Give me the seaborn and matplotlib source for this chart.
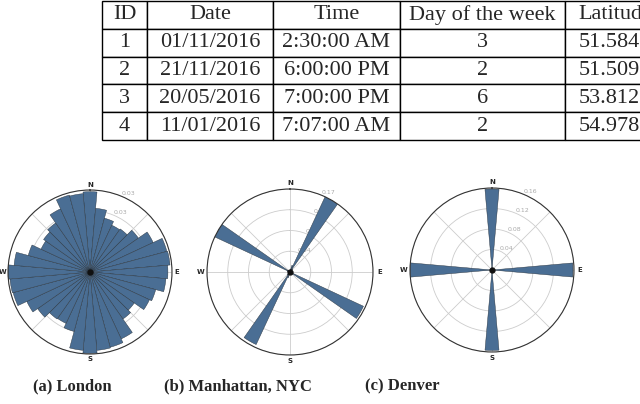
import numpy as np
import matplotlib
matplotlib.use("Agg")
import matplotlib.pyplot as plt
import seaborn as sns

# table data
headers = ["ID", "Date", "Time", "Day of the week", "Latitude"]
ids = ["1", "2", "3", "4"]
dates = ["01/11/2016", "21/11/2016", "20/05/2016", "11/01/2016"]
times = ["2:30:00 AM", "6:00:00 PM", "7:00:00 PM", "7:07:00 AM"]
weekdays = ["3", "2", "6", "2"]
latitudes = ["51.5842", "51.5096", "53.8123", "54.9783"]

# direction bins (degrees clockwise from north)
bins_deg = list(range(0, 360, 10))

london = [0.0333, 0.0265, 0.0231, 0.0214, 0.0218, 0.0245, 0.0289, 0.0330, 0.0333,
          0.0323, 0.0316, 0.0282, 0.0272, 0.0224, 0.0238, 0.0306, 0.0323, 0.0326,
          0.0337, 0.0326, 0.0255, 0.0235, 0.0238, 0.0265, 0.0289, 0.0330, 0.0333,
          0.0340, 0.0316, 0.0265, 0.0224, 0.0235, 0.0248, 0.0289, 0.0330, 0.0326]
manhattan = [0.004, 0.006, 0.014, 0.170, 0.008, 0.004, 0.003, 0.003, 0.003,
             0.004, 0.004, 0.006, 0.166, 0.006, 0.004, 0.003, 0.003, 0.003,
             0.004, 0.006, 0.012, 0.164, 0.008, 0.004, 0.003, 0.003, 0.003,
             0.004, 0.004, 0.006, 0.170, 0.006, 0.004, 0.003, 0.003, 0.003]
denver = [0.158, 0.004, 0.002, 0.002, 0.002, 0.002, 0.002, 0.002, 0.004,
          0.158, 0.004, 0.002, 0.002, 0.002, 0.002, 0.002, 0.002, 0.004,
          0.157, 0.004, 0.002, 0.002, 0.002, 0.002, 0.002, 0.002, 0.004,
          0.160, 0.004, 0.002, 0.002, 0.002, 0.002, 0.002, 0.002, 0.004]

rmax = [0.034, 0.17, 0.16]
ring_labels = [["", "", "0.03", "0.03"],
               ["0.04", "0.09", "0.13", "0.17"],
               ["0.04", "0.08", "0.12", "0.16"]]
captions = ["(a) London", "(b) Manhattan, NYC", "(c) Denver"]

sns.set_style("white")
plt.rcParams['font.family'] = ['Liberation Serif', 'DejaVu Serif']

fig = plt.figure(figsize=(6.4, 4.04), dpi=100)

# ---- table ----
W, H = 640.0, 404.0
col_w = [45, 126, 127, 165, 100]
ax_t = fig.add_axes([102 / W, (H - 140) / H, sum(col_w) / W, 139 / H])
ax_t.axis('off')
rows = [list(r) for r in zip(ids, dates, times, weekdays, latitudes)]
tbl = ax_t.table(cellText=rows, colLabels=headers, colWidths=col_w,
                 cellLoc='center', bbox=[0, 0, 1, 1])
tbl.auto_set_font_size(False)
tbl.set_fontsize(16)
for (r, c), cell in tbl.get_celld().items():
    cell.set_linewidth(1.0)
    cell.set_edgecolor('black')
    cell.get_text().set_fontfamily(['Liberation Serif', 'DejaVu Serif'])

# ---- wind roses ----
boxes = [(90, 272, 82), (290, 272, 83), (492, 270, 82)]
pads = [-7, -6, -6]
series = [london, manhattan, denver]
bar_color = "#4a6e94"
theta = np.deg2rad(bins_deg)
width = 2 * np.pi / len(bins_deg)

for i, (cx, cy, R) in enumerate(boxes):
    ax = fig.add_axes([(cx - R) / W, (H - cy - R) / H, 2 * R / W, 2 * R / H],
                      projection='polar')
    ax.set_theta_zero_location('N')
    ax.set_theta_direction(-1)
    ax.set_axisbelow(True)
    ax.bar(theta, series[i], width=width, color=bar_color,
           edgecolor='#26303a', linewidth=0.3, zorder=2)
    ax.set_ylim(0, rmax[i])
    ticks = [rmax[i] * k / 4 for k in range(1, 5)]
    ax.set_yticks(ticks)
    ax.set_yticklabels(ring_labels[i], fontsize=4.5, color='#aaaaaa',
                       family='DejaVu Sans')
    ax.set_rlabel_position(22.5)
    ax.set_thetagrids(range(0, 360, 45),
                      labels=['N', '', 'E', '', 'S', '', 'W', ''],
                      fontsize=5, fontweight='bold', family='DejaVu Sans')
    ax.tick_params(axis='x', pad=pads[i])
    ax.grid(color='#cccccc', linewidth=0.6)
    ax.spines['polar'].set_color('#333333')
    ax.spines['polar'].set_linewidth(0.8)
    ax.plot([0], [0], 'o', color='#111111', ms=3.5, zorder=3)

cap_x = [72, 238, 402]
for x, txt in zip(cap_x, captions):
    fig.text(x / W, (H - 386) / H, txt, ha='center', va='center',
             fontsize=12, fontweight='bold')

fig.savefig("out.png", dpi=100)
